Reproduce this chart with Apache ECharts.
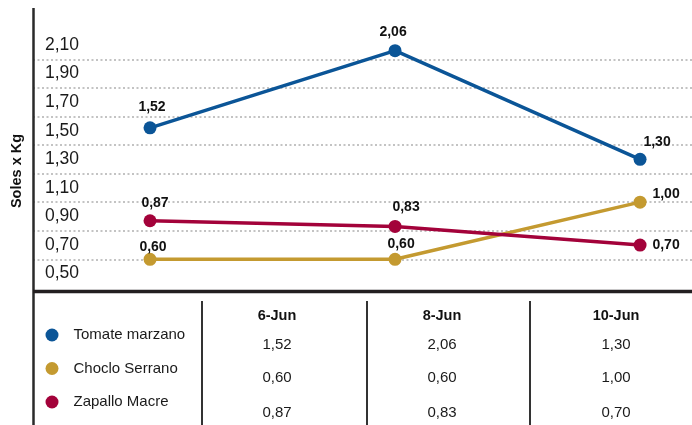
<!DOCTYPE html>
<html><head><meta charset="utf-8">
<script src="https://cdn.jsdelivr.net/npm/echarts@6/dist/echarts.min.js"></script>
<style>html,body{margin:0;padding:0;background:#fff}#c{width:692px;height:425px}</style>
</head><body><div id="c"></div>
<script>
const FONT = '"Liberation Sans",Arial,sans-serif';

const categories = ['6-Jun', '8-Jun', '10-Jun'];
const seriesNames = ['Tomate marzano', 'Choclo Serrano', 'Zapallo Macre'];
const tomateMarzano = [1.52, 2.06, 1.30];
const chocloSerrano = [0.60, 0.60, 1.00];
const zapalloMacre = [0.87, 0.83, 0.70];
const yTickLabels = ['0,50', '0,70', '0,90', '1,10', '1,30', '1,50', '1,70', '1,90', '2,10'];
const yTitle = 'Soles x Kg';

const values = [tomateMarzano, chocloSerrano, zapalloMacre];
const colors = ['#0b5597', '#c49a30', '#a3023a'];
const fmt = v => v.toFixed(2).replace('.', ',');

// label offsets relative to each point (style only)
const labelOffsets = [
  [[2, -21], [-2, -19], [17, -17]],
  [[3, -12], [6, -15], [26, -8]],
  [[5, -18], [11, -19], [26, 0]]
];

const chart = echarts.init(document.getElementById('c'), null, {renderer: 'canvas'});

const colX = [277, 442, 616];
const headerY = 316;
const rowY = [345, 378, 413];

const graphics = [];
graphics.push({type: 'line', shape: {x1: 33.5, y1: 8, x2: 33.5, y2: 425}, style: {stroke: '#2a2a2a', lineWidth: 2.5}, z: 10});
graphics.push({type: 'line', shape: {x1: 33, y1: 291.5, x2: 692, y2: 291.5}, style: {stroke: '#231f20', lineWidth: 3.5}, z: 10});
[202, 367, 530].forEach(x => graphics.push({type: 'line', shape: {x1: x, y1: 301, x2: x, y2: 425}, style: {stroke: '#333', lineWidth: 2}, z: 10}));
graphics.push({type: 'text', x: 17, y: 171, rotation: Math.PI / 2,
  style: {text: yTitle, font: 'bold 14.5px ' + FONT, fill: '#111', align: 'center', verticalAlign: 'middle'}});
categories.forEach((c, i) => {
  graphics.push({type: 'text', x: colX[i], y: headerY,
    style: {text: c, font: 'bold 14.5px ' + FONT, fill: '#111', align: 'center', verticalAlign: 'middle'}});
  values.forEach((arr, si) => {
    graphics.push({type: 'text', x: colX[i], y: rowY[si],
      style: {text: fmt(arr[i]), font: '15px ' + FONT, fill: '#1a1a1a', align: 'center', verticalAlign: 'middle'}});
  });
});

const option = {
  animation: false,
  textStyle: {fontFamily: FONT},
  grid: {left: 33, right: 0, top: 30.7, bottom: 425 - 287.9, outerBoundsMode: 'none'},
  xAxis: {type: 'value', min: -0.4776, max: 2.212, show: false},
  yAxis: [
    {type: 'value', position: 'left', min: 0.4, max: 2.2, interval: 0.2,
      axisLine: {show: false}, axisTick: {show: false}, axisLabel: {show: false},
      splitLine: {show: true, showMinLine: false, showMaxLine: false,
        lineStyle: {color: '#b0b0b0', type: [2, 2.5], width: 1.5}}},
    {type: 'value', position: 'left', min: 0.4, max: 2.2, interval: 0.1,
      axisLine: {show: false}, axisTick: {show: false}, splitLine: {show: false},
      axisLabel: {inside: true, margin: 12, fontSize: 17.5, color: '#1a1a1a', fontFamily: FONT,
        formatter: v => { const s = fmt(v); return yTickLabels.indexOf(s) >= 0 ? s : ''; }}}
  ],
  legend: {
    orient: 'vertical', left: 45.5, top: 327.5, height: 110, padding: 0,
    icon: 'circle', itemWidth: 13, itemHeight: 13, itemGap: 18.5,
    selectedMode: false,
    textStyle: {fontSize: 15, color: '#1a1a1a', fontFamily: FONT, lineHeight: 13, padding: [0, 0, 0, 10]},
    data: seriesNames
  },
  series: values.map((arr, si) => ({
    name: seriesNames[si], type: 'line', yAxisIndex: 0,
    symbol: 'circle', symbolSize: 13, showSymbol: true,
    lineStyle: {width: 3.5, color: colors[si]},
    itemStyle: {color: colors[si]},
    emphasis: {disabled: true},
    label: {show: true, position: 'inside', fontSize: 14, fontWeight: 'bold', color: '#111', fontFamily: FONT,
      formatter: p => fmt(p.value[1])},
    data: arr.map((v, i) => ({value: [i, v], label: {offset: labelOffsets[si][i]}}))
  })),
  graphic: graphics
};
chart.setOption(option);
</script></body></html>
